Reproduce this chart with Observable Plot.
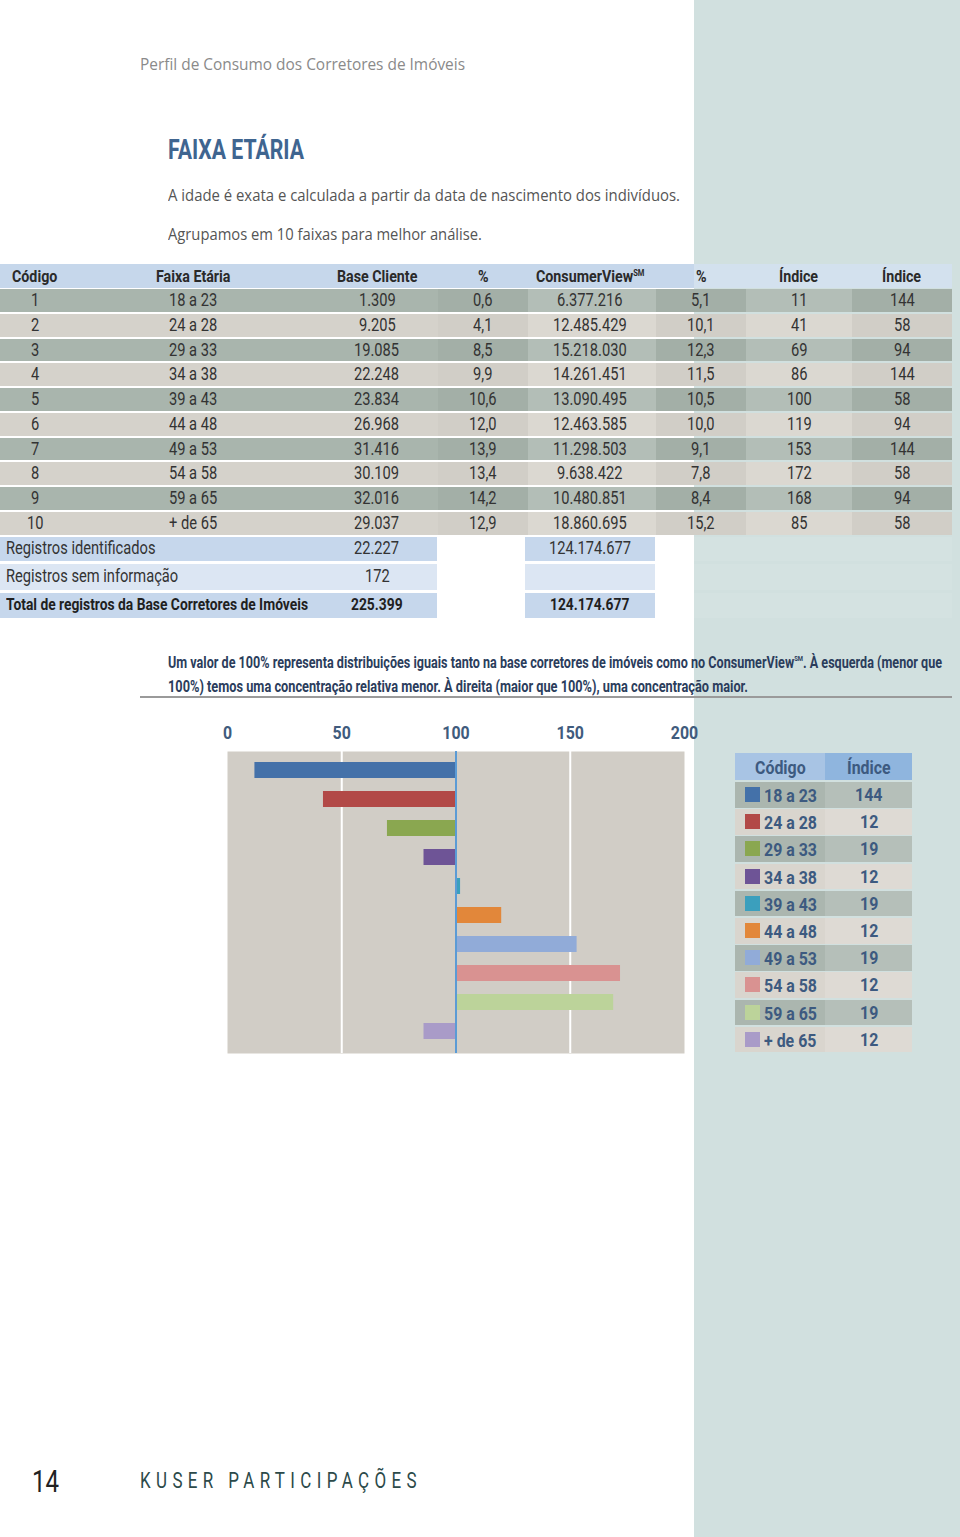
<!DOCTYPE html>
<html>
<head>
<meta charset="utf-8">
<script src="https://cdn.jsdelivr.net/npm/d3@7"></script>
<script src="https://cdn.jsdelivr.net/npm/@observablehq/plot@0.6"></script>
<style>
  html, body { margin: 0; padding: 0; background: #fff; }
  #page { position: relative; width: 960px; height: 1537px; overflow: hidden; background: #fff; }
  .abs { position: absolute; white-space: nowrap; line-height: 1; }
  .cond { font-family: Roboto, "Liberation Sans", sans-serif; }
  .hum { font-family: "Open Sans", "Lato", sans-serif; }
  .box { position: absolute; }
  #chart { position: absolute; left: 200px; top: 710px; }
</style>
</head>
<body>
<div id="page"></div>
<script>
// ---------------- DATA ----------------
const codigos = [1, 2, 3, 4, 5, 6, 7, 8, 9, 10];
const faixas = ["18 a 23", "24 a 28", "29 a 33", "34 a 38", "39 a 43", "44 a 48", "49 a 53", "54 a 58", "59 a 65", "+ de 65"];
const baseCliente = ["1.309", "9.205", "19.085", "22.248", "23.834", "26.968", "31.416", "30.109", "32.016", "29.037"];
const basePct = ["0,6", "4,1", "8,5", "9,9", "10,6", "12,0", "13,9", "13,4", "14,2", "12,9"];
const consumerView = ["6.377.216", "12.485.429", "15.218.030", "14.261.451", "13.090.495", "12.463.585", "11.298.503", "9.638.422", "10.480.851", "18.860.695"];
const cvPct = ["5,1", "10,1", "12,3", "11,5", "10,5", "10,0", "9,1", "7,8", "8,4", "15,2"];
const indice = [11, 41, 69, 86, 100, 119, 153, 172, 168, 85];
const indice2 = [144, 58, 94, 144, 58, 94, 144, 58, 94, 58];
// chart bars (bar 5 is drawn slightly above 100)
const indiceGrafico = [12, 42, 70, 86, 102, 120, 153, 172, 169, 86];
const legendIndice = [144, 12, 19, 12, 19, 12, 19, 12, 19, 12];
const xTicks = [0, 50, 100, 150, 200];
const palette = ["#4471a9", "#b24947", "#8aa750", "#6e5496", "#3b9fbd", "#e2873a", "#91abd8", "#d99291", "#bcd39a", "#a99bc8"];

// ---------------- HELPERS ----------------
const page = document.getElementById("page");
const fits = [];
function box(x, y, w, h, bg) {
  const d = document.createElement("div");
  d.className = "box";
  Object.assign(d.style, { left: x + "px", top: y + "px", width: w + "px", height: h + "px", background: bg });
  page.appendChild(d);
  return d;
}
function text(str, o) {
  const d = document.createElement("div");
  d.className = "abs " + (o.cls || "cond");
  d.innerHTML = str;
  const size = o.size || 16;
  Object.assign(d.style, {
    fontSize: size + "px",
    fontWeight: o.weight || "normal",
    color: o.color || "#333",
    top: (o.cy - size * 0.5) + "px",
    height: size + "px",
    letterSpacing: (o.ls || 0) + "px"
  });
  page.appendChild(d);
  fits.push({ d, o });
  return d;
}
// horizontal compression that mimics the condensed face of the original
function measure(str, size, weight) {
  const d = document.createElement("span");
  d.className = "abs cond";
  d.style.fontSize = size + "px";
  d.style.fontWeight = weight;
  d.textContent = str;
  page.appendChild(d);
  const w = d.getBoundingClientRect().width;
  d.remove();
  return w;
}
let COND = 0.78;
function finalize() {
  COND = 302 / measure("Total de registros da Base Corretores de Imóveis", 16.5, "bold");
  for (const { d, o } of fits) {
    const w = d.getBoundingClientRect().width;
    let s = 1;
    if (o.width) s = o.width / w;
    else if ((o.cls || "cond") === "cond") s = o.sx || COND;
    const ww = w * s;
    let left = o.x;
    if (o.align === "center") left = o.x - ww / 2;
    if (o.align === "right") left = o.x - ww;
    d.style.left = left + "px";
    d.style.transformOrigin = "0 50%";
    d.style.transform = `scaleX(${s})`;
  }
}

// ---------------- BACKGROUND ----------------
box(694, 0, 266, 1537, "#d1e0df");

// ---------------- HEADINGS ----------------
text("Perfil de Consumo dos Corretores de Imóveis", { x: 140, cy: 64, size: 16, color: "#8a8a8a", cls: "hum", width: 325 });
text("FAIXA ETÁRIA", { x: 168, cy: 150, size: 28, weight: "bold", color: "#3f6590", width: 136 });
text("A idade é exata e calculada a partir da data de nascimento dos indivíduos.", { x: 168, cy: 194, size: 17, color: "#555", cls: "hum", width: 512 });
text("Agrupamos em 10 faixas para melhor análise.", { x: 168, cy: 233, size: 17, color: "#555", cls: "hum", width: 314 });

// ---------------- TABLE ----------------
const cols = [[0, 70], [70, 316], [316, 438], [438, 528], [528, 656], [656, 746], [746, 852], [852, 952]];
const centers = [35, 193, 377, 483, 590, 701, 799, 902];
const headers = ["Código", "Faixa Etária", "Base Cliente", "%", "ConsumerView<sup style='font-size:9px;vertical-align:6px'>SM</sup>", "%", "Índice", "Índice"];
box(0, 264, 952, 24, "#c6d7eb");
box(694, 264, 258, 24, "#d3e1ee");
headers.forEach((h, j) => text(h, { x: centers[j], cy: 276, size: 17, weight: "bold", color: "#2a2a2a", align: "center" }));

const oddShade = ["#a9b5ad", "#a9b5ad", "#a9b5ad", "#a3afa7", "#b3beb7", "#a3afa7", "#b3beb7", "#a3afa7"];
const evenShade = ["#d5d2cb", "#d5d2cb", "#d5d2cb", "#d1cec7", "#dbd8d1", "#d1cec7", "#dbd8d1", "#d1cec7"];
const rowTop = 289, rowH = 24.75;
codigos.forEach((c, i) => {
  const y = rowTop + i * rowH;
  const shades = i % 2 === 0 ? oddShade : evenShade;
  cols.forEach(([a, b], j) => box(a, y, b - a, rowH - 1.8, shades[j]));
  const vals = [c, faixas[i], baseCliente[i], basePct[i], consumerView[i], cvPct[i], indice[i], indice2[i]];
  vals.forEach((v, j) => text(String(v), { x: centers[j], cy: y + rowH / 2 - 0.5, size: 17.5, color: "#333", align: "center" }));
});

// summary rows
const sumRows = [
  { label: "Registros identificados", base: "22.227", cv: "124.174.677", bg: "#c6d7ec", bold: false, top: 537, h: 24 },
  { label: "Registros sem informação", base: "172", cv: "", bg: "#dce6f3", bold: false, top: 564, h: 26 },
  { label: "Total de registros da Base Corretores de Imóveis", base: "225.399", cv: "124.174.677", bg: "#c6d7ec", bold: true, top: 593, h: 25 }
];
sumRows.forEach(r => {
  box(0, r.top, 437, r.h, r.bg);
  box(525, r.top, 130, r.h, r.bg);
  box(694, r.top, 258, r.h, "#d4e2e1");
  const cy = r.top + r.h / 2;
  const sz = r.bold ? 16.5 : 17.5;
  const col = r.bold ? "#1f1f1f" : "#333";
  const w = r.bold ? "bold" : "normal";
  text(r.label, { x: 6, cy, size: sz, weight: w, color: col });
  text(r.base, { x: 377, cy, size: sz, weight: w, color: col, align: "center" });
  if (r.cv) text(r.cv, { x: 590, cy, size: sz, weight: w, color: col, align: "center" });
});

// ---------------- NOTE ----------------
text("Um valor de 100% representa distribuições iguais tanto na base corretores de imóveis como no ConsumerView<sup style='font-size:8px;vertical-align:7px'>SM</sup>. À esquerda (menor que",
  { x: 168, cy: 662, size: 17, weight: "bold", color: "#2b3d5c", width: 774 });
text("100%) temos uma concentração relativa menor. À direita (maior que 100%), uma concentração maior.",
  { x: 168, cy: 686, size: 17, weight: "bold", color: "#2b3d5c", width: 580 });
box(140, 696, 812, 1.5, "#9a9a9a");

// ---------------- CHART ----------------
const data = faixas.map((f, i) => ({ faixa: f, v: indiceGrafico[i] }));
const chart = Plot.plot({
  width: 500,
  height: 348,
  marginLeft: 27,
  marginRight: 16,
  marginTop: 41,
  marginBottom: 5,
  style: { fontFamily: "Roboto, sans-serif", background: "transparent", overflow: "visible" },
  x: { domain: [0, 200] },
  y: { domain: faixas, paddingInner: 0.46, paddingOuter: 0.35, align: 0.45, axis: null },
  color: { domain: faixas, range: palette },
  marks: [
    Plot.frame({ fill: "#d1cdc6", stroke: null }),
    Plot.ruleX([50, 150], { stroke: "#ffffff", strokeWidth: 2 }),
    Plot.barX(data, { x1: () => 100, x2: "v", y: "faixa", fill: "faixa" }),
    Plot.ruleX([100], { stroke: "#5b9bd5", strokeWidth: 2 }),
    Plot.axisX(xTicks, { anchor: "top", tickSize: 0, tickPadding: 13, fontSize: 19, fontWeight: "bold", fill: "#405b7d", label: null, tickFormat: d => String(d) })
  ]
});
chart.id = "chart";
page.appendChild(chart);

// ---------------- LEGEND TABLE ----------------
const lx = 735, lmid = 825, lr = 912;
box(lx, 753, lmid - lx, 27, "#a8c4e4");
box(lmid, 753, lr - lmid, 27, "#8fb5de");
text("Código", { x: 780, cy: 767, size: 19, weight: "bold", color: "#3d5a80", align: "center" });
text("Índice", { x: 869, cy: 767, size: 19, weight: "bold", color: "#3d5a80", align: "center" });
const lTop = 782, lH = 27.2;
faixas.forEach((f, i) => {
  const y = lTop + i * lH;
  const odd = i % 2 === 0;
  box(lx, y, lmid - lx, lH - 1.6, odd ? "#abb6af" : "#d9d5ce");
  box(lmid, y, lr - lmid, lH - 1.6, odd ? "#b5bfb9" : "#dedad4");
  box(745, y + 5, 15, 15, palette[i]);
  text(f, { x: 764, cy: y + 13.5, size: 19, weight: "bold", color: "#3d5a80" });
  text(String(legendIndice[i]), { x: 869, cy: y + 12.5, size: 19, weight: "bold", color: "#3d5a80", align: "center" });
});

// ---------------- FOOTER ----------------
text("14", { x: 32, cy: 1481, size: 32, color: "#222", width: 27 });
text("KUSER PARTICIPAÇÕES", { x: 140, cy: 1481, size: 22, color: "#2c4a4a", ls: 7, width: 282 });

finalize();

// condense the chart's tick labels the same way
chart.querySelectorAll("text").forEach(t => {
  const len = t.getComputedTextLength();
  t.setAttribute("textLength", (len * COND).toFixed(2));
  t.setAttribute("lengthAdjust", "spacingAndGlyphs");
});
</script>
</body>
</html>
